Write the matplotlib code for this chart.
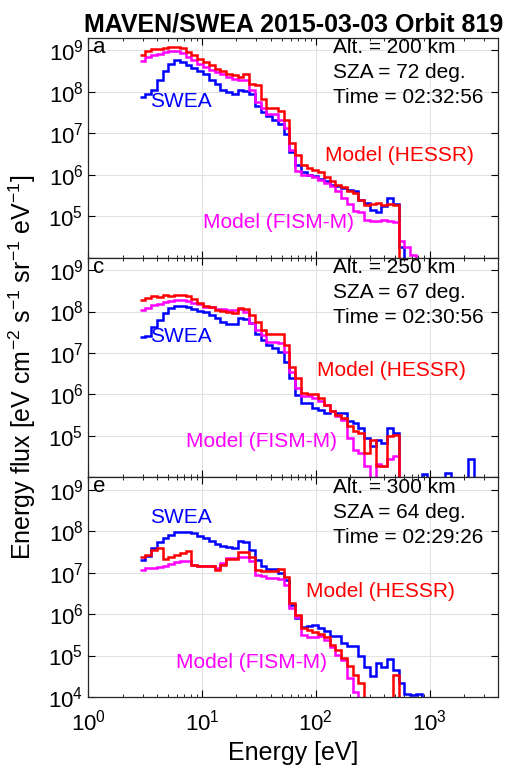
import matplotlib
matplotlib.use('Agg')
import matplotlib.pyplot as plt
import numpy as np

plt.rcParams['font.family'] = ['Liberation Sans', 'DejaVu Sans']
plt.rcParams['mathtext.default'] = 'regular'

# SWEA energy bins (eV), ascending
energy = [3.00, 3.37, 3.79, 4.26, 4.78, 5.37, 6.04, 6.78, 7.62, 8.56,
          9.62, 10.81, 12.15, 13.65, 15.33, 17.23, 19.36, 21.75, 24.44, 27.46,
          30.85, 34.66, 38.95, 43.76, 49.17, 55.24, 62.07, 69.74, 78.36, 88.05,
          98.93, 111.15, 124.88, 140.32, 157.66, 177.15, 199.04, 223.64, 251.28, 282.33,
          317.23, 356.43, 400.48, 449.98, 505.59, 568.08, 638.28, 717.16, 805.79, 905.38,
          1017.27, 1142.99, 1284.32, 1443.04, 1621.38, 1821.77, 2046.91, 2299.88, 2584.12]

# log10 of energy flux; None = no counts
swea_a = [7.875, 7.96, 8.05, 8.28, 8.50, 8.68, 8.76, 8.72, 8.64, 8.58,
          8.50, 8.42, 8.29, 8.20, 8.05, 8.00, 7.96, 8.04, 8.01, 7.94,
          7.65, 7.51, 7.41, 7.31, 7.22, 6.99, 6.55, 6.23, 6.07, 6.00,
          5.97, 5.90, 5.85, 5.75, 5.72, 5.68, 5.63, 5.60, 5.40, 5.31,
          5.15, 5.10, 5.25, 5.43, 5.30, 4.26]
hessr_a = [8.90, 8.98, 9.04, 9.04, 9.06, 9.08, 9.08, 9.06, 8.96, 8.88,
           8.80, 8.72, 8.64, 8.56, 8.50, 8.44, 8.40, 8.36, 8.42, 8.20,
           8.16, 7.84, 7.60, 7.60, 7.55, 7.31, 6.76, 6.47, 6.23, 6.16,
           6.12, 6.07, 5.95, 5.85, 5.75, 5.70, 5.60, 5.55, 5.40, 5.27,
           5.30, 5.31, 5.28, 5.30, 5.27]
fism_a = [8.74, 8.84, 8.90, 8.92, 8.96, 8.98, 8.98, 8.93, 8.84, 8.76,
          8.68, 8.60, 8.53, 8.48, 8.42, 8.36, 8.32, 8.29, 8.28, 8.04,
          7.75, 7.60, 7.47, 7.47, 7.31, 7.12, 6.60, 6.10, 6.00, 5.99,
          5.95, 5.87, 5.80, 5.72, 5.60, 5.45, 5.30, 5.12, 5.10, 4.92,
          4.88, 4.88, 4.90, 4.88, 4.87, 4.40, 4.25, 4.06]

swea_c = [7.39, 7.42, 7.63, 7.80, 7.96, 8.08, 8.14, 8.14, 8.12, 8.06,
          8.02, 8.00, 7.92, 7.84, 7.75, 7.69, 7.70, 7.85, 7.82, 7.72,
          7.47, 7.31, 7.19, 7.13, 7.03, 6.79, 6.39, 5.99, 5.79, 5.79,
          5.67, 5.63, 5.55, 5.59, 5.55, 5.55, 5.35, 5.31, 5.19, 4.95,
          4.75, 4.91, 4.83, 5.19, 5.08, None, None, None, None, 4.07,
          None, None, None, 4.10, None, None, None, 4.43]
hessr_c = [8.28, 8.32, 8.38, 8.36, 8.40, 8.37, 8.40, 8.40, 8.38, 8.30,
           8.20, 8.14, 8.12, 8.04, 8.02, 8.00, 7.96, 8.08, 8.05, 7.92,
           7.75, 7.55, 7.47, 7.47, 7.47, 7.20, 6.67, 6.40, 6.03, 6.02,
           6.02, 5.91, 5.75, 5.59, 5.51, 5.44, 5.23, 5.11, 5.07, 4.59,
           4.91, 4.27, 4.27, 4.99, 5.03]
fism_c = [8.04, 8.09, 8.16, 8.18, 8.24, 8.26, 8.28, 8.28, 8.26, 8.20,
          8.18, 8.12, 8.12, 8.06, 8.06, 8.04, 8.04, 8.05, 8.00, 7.72,
          7.55, 7.44, 7.27, 7.27, 7.24, 7.03, 6.55, 6.15, 5.95, 5.95,
          5.91, 5.83, 5.75, 5.59, 5.47, 5.39, 4.95, 4.67, 4.59, 4.27,
          None, 4.31, 4.27, 4.45, 4.51]

swea_e = [7.31, 7.40, 7.59, 7.73, 7.83, 7.91, 7.97, 7.97, 7.97, 7.95,
          7.89, 7.83, 7.77, 7.69, 7.65, 7.61, 7.59, 7.77, 7.73, 7.55,
          7.31, 7.15, 7.10, 7.08, 6.99, 6.83, 6.22, 5.90, 5.70, 5.71,
          5.74, 5.66, 5.58, 5.46, 5.47, 5.30, 5.22, 5.22, 4.98, 4.72,
          4.50, 4.82, 4.72, 4.92, 4.66, 4.34, 4.06, 4.04, 4.06]
hessr_e = [7.37, 7.42, 7.55, 7.59, 7.33, 7.37, 7.42, 7.47, 7.53, 7.19,
           7.15, 7.15, 7.15, 7.07, 7.19, 7.33, 7.33, 7.51, 7.51, 7.37,
           7.07, 7.03, 7.03, 7.03, 7.08, 6.89, 6.27, 5.98, 5.66, 5.62,
           5.56, 5.53, 5.45, 5.26, 5.14, 4.94, 4.74, 4.54, 4.34, None,
           None, None, None, None, 4.54]
fism_e = [7.07, 7.11, 7.11, 7.13, 7.17, 7.21, 7.25, 7.29, 7.28, 7.19,
          7.15, 7.15, 7.15, 7.11, 7.23, 7.35, 7.35, 7.37, 7.37, 7.27,
          6.95, 6.91, 6.88, 6.87, 6.85, 6.70, 6.14, 5.94, 5.50, 5.45,
          5.45, 5.47, 5.38, 5.20, 5.02, 4.90, 4.46, 4.13]

panels = [
    ('a', swea_a, hessr_a, fism_a, ['Alt. = 200 km', 'SZA = 72 deg.', 'Time = 02:32:56'],
     (0.227, 0.709), (0.760, 0.463), (0.464, 0.162)),
    ('c', swea_c, hessr_c, fism_c, ['Alt. = 250 km', 'SZA = 67 deg.', 'Time = 02:30:56'],
     (0.227, 0.643), (0.740, 0.488), (0.423, 0.165)),
    ('e', swea_e, hessr_e, fism_e, ['Alt. = 300 km', 'SZA = 64 deg.', 'Time = 02:29:26'],
     (0.227, 0.819), (0.713, 0.478), (0.398, 0.159)),
]

E = np.array(energy)
mid = np.sqrt(E[:-1] * E[1:])
edges = np.concatenate([[E[0] ** 2 / mid[0]], mid, [E[-1] ** 2 / mid[-1]]])


def to_flux(vals):
    out = np.zeros(len(E))
    for i, v in enumerate(vals):
        if v is not None:
            out[i] = 10.0 ** v
    return out


fig = plt.figure(figsize=(5.08, 7.67), dpi=100)
left, width, h = 0.1738, 0.8065, 0.2864
bottoms = [0.0913 + 2 * h, 0.0913 + h, 0.0913]

yticks = [1e4, 1e5, 1e6, 1e7, 1e8, 1e9]
for k, (letter, sw, he, fi, info, p_sw, p_he, p_fi) in enumerate(panels):
    ax = fig.add_axes([left, bottoms[k], width, h])
    ax.set_xscale('log')
    ax.set_yscale('log')
    ax.stairs(to_flux(sw), edges, baseline=None, color='#0000ff', lw=1.8)
    ax.stairs(to_flux(fi), edges, baseline=None, color='#ff00ff', lw=1.8)
    ax.stairs(to_flux(he), edges, baseline=None, color='#ff0000', lw=1.8)
    ax.set_xlim(1, 4000)
    ax.set_ylim(1e4, 2e9)
    labels = ['$10^{%d}$' % int(np.log10(t)) for t in yticks]
    if k < 2:
        labels[0] = ''
    ax.set_yticks(yticks, labels=labels)
    ax.grid(True, which='major', color='#e2e2e2', lw=0.8)
    ax.set_axisbelow(True)
    ax.tick_params(which='both', direction='in', top=True, right=True, labelsize=16)
    ax.tick_params(which='major', length=5, width=0.8)
    ax.tick_params(which='minor', length=2.5, width=0.6)
    ax.tick_params(axis='x', which='major', pad=9)
    if k < 2:
        ax.tick_params(axis='x', labelbottom=False)
    for s in ax.spines.values():
        s.set_linewidth(0.9)
        s.set_color('#262626')

    ax.text(0.012, 0.957, letter, transform=ax.transAxes, va='center', ha='left', fontsize=16)
    for j, line in enumerate(info):
        ax.text(0.597, 0.955 - 0.114 * j, line, transform=ax.transAxes,
                va='center', ha='left', fontsize=15)
    ax.text(*p_sw, 'SWEA', transform=ax.transAxes, color='#0000ff', ha='center', va='center', fontsize=15)
    ax.text(*p_he, 'Model (HESSR)', transform=ax.transAxes, color='#ff0000', ha='center', va='center', fontsize=15)
    ax.text(*p_fi, 'Model (FISM-M)', transform=ax.transAxes, color='#ff00ff', ha='center', va='center', fontsize=15)

    if k == 0:
        ax.set_title('MAVEN/SWEA 2015-03-03 Orbit 819', fontsize=18, fontweight='bold', pad=5)
    if k == 2:
        ax.set_xlabel('Energy [eV]', fontsize=18, labelpad=4)

fig.text(0.043, 0.521, 'Energy flux [eV cm$^{-2}$ s$^{-1}$ sr$^{-1}$ eV$^{-1}$]',
         rotation=90, ha='center', va='center', fontsize=18)

fig.savefig('out.png', dpi=100)
